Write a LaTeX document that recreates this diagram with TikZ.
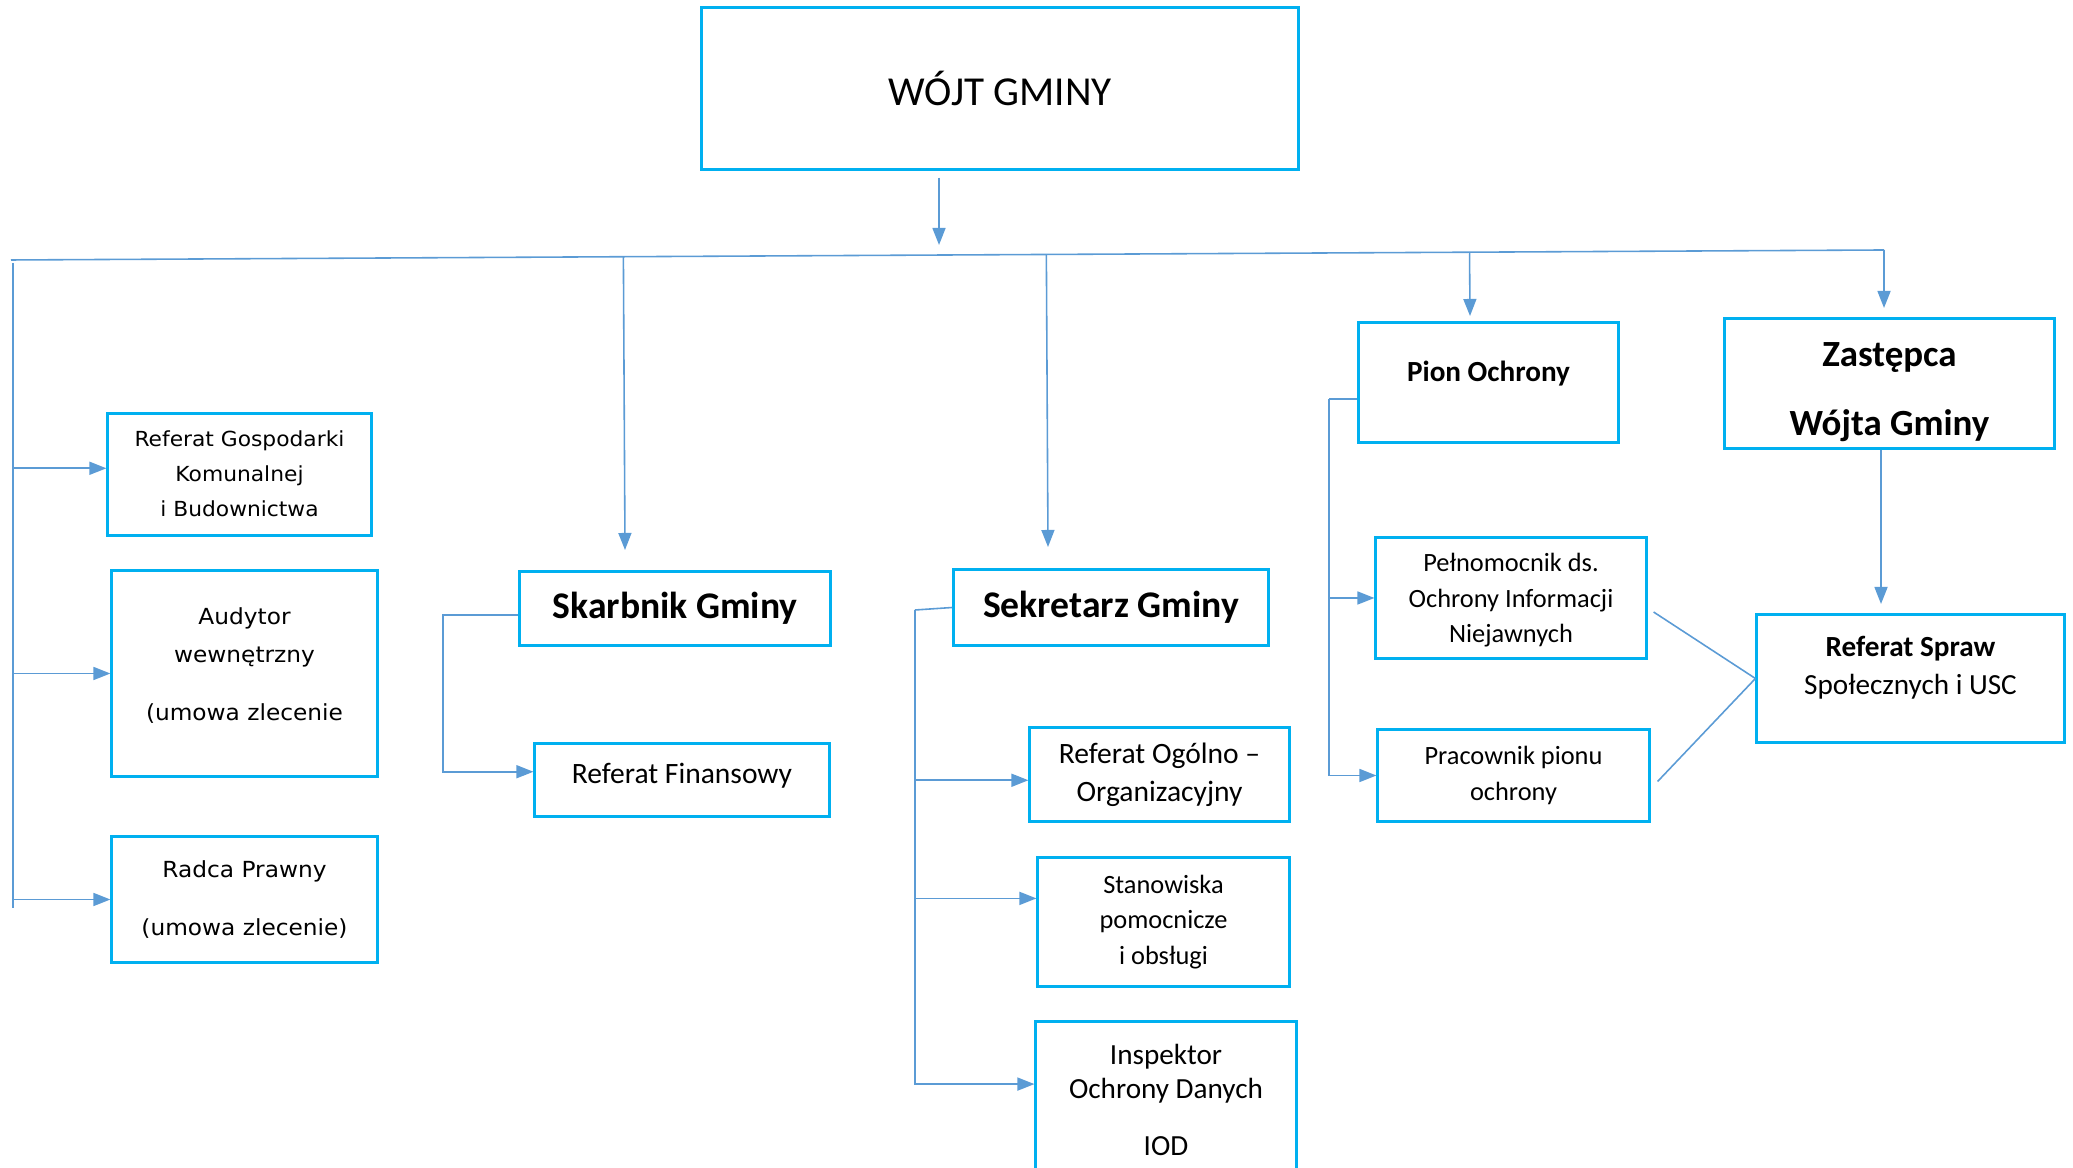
\documentclass[tikz,border=0pt]{standalone}
\usepackage{fontspec}
\setmainfont{Carlito}
\newfontfamily\widefont[FakeStretch=1.05]{DejaVu Sans}
\usetikzlibrary{arrows.meta,calc}
\definecolor{boxblue}{HTML}{00B0F0}
\definecolor{lineblue}{HTML}{5B9BD5}

\begin{document}
\begin{tikzpicture}[x=0.01cm, y=-0.01cm]
    \tikzstyle{box} = [draw=boxblue, line width=0.85pt, align=center, inner sep=1pt]
    \tikzstyle{link} = [draw=lineblue, line width=0.45pt]
    \tikzstyle{arrow} = [link, -{Triangle[length=1.7mm, width=1.3mm]}]
    \clip (0,0) rectangle (2073,1168);

    \node[box, minimum width=5.96cm, minimum height=1.61cm, font=\fontsize{11.7}{14}\selectfont] (wojt) at (1000,88.5) {WÓJT GMINY};

    \node[box, minimum width=2.63cm, minimum height=1.21cm, text depth=0.5pt, font=\widefont\fontsize{5.9}{10}\selectfont] (rgk) at (239.5,474.5) {Referat Gospodarki\\Komunalnej\\i Budownictwa};
    \node[box, minimum width=2.65cm, minimum height=2.05cm, text depth=5.3pt, font=\widefont\fontsize{6.3}{10.8}\selectfont] (aud) at (244.5,673.5) {Audytor\\wewnętrzny\\[5.7pt](umowa zlecenie};
    \node[box, minimum width=2.65cm, minimum height=1.25cm, font=\widefont\fontsize{6.3}{16.5}\selectfont] (radca) at (244.5,899.5) {Radca Prawny\\(umowa zlecenie)};

    \node[box, minimum width=3.10cm, minimum height=0.73cm, font=\fontsize{10.7}{13}\selectfont\bfseries] (skarb) at (675,608.5) {Skarbnik Gminy};
    \node[box, minimum width=2.94cm, minimum height=0.72cm, text depth=4pt, font=\fontsize{8.4}{10.8}\selectfont] (rfin) at (682,780) {Referat Finansowy};

    \node[box, minimum width=3.14cm, minimum height=0.75cm, font=\fontsize{10.7}{13}\selectfont\bfseries] (sekr) at (1111,607.5) {Sekretarz Gminy};
    \node[box, minimum width=2.59cm, minimum height=0.93cm, font=\fontsize{8.4}{10.8}\selectfont] (rog) at (1159.5,774.5) {Referat Ogólno –\\Organizacyjny};
    \node[box, minimum width=2.51cm, minimum height=1.28cm, font=\fontsize{7.5}{10}\selectfont] (stan) at (1163.5,922) {Stanowiska\\pomocnicze\\i obsługi};
    \node[box, minimum width=2.60cm, minimum height=1.56cm, font=\fontsize{8.3}{9.7}\selectfont] (iod) at (1166,1100) {Inspektor\\Ochrony Danych\\[6.5pt]IOD};

    \node[box, minimum width=2.59cm, minimum height=1.19cm, text depth=6.4pt, font=\fontsize{8.3}{10}\selectfont\bfseries] (pion) at (1488.5,382.5) {Pion Ochrony};
    \node[box, minimum width=2.70cm, minimum height=1.20cm, text depth=0pt, font=\fontsize{7.5}{10}\selectfont] (pel) at (1511,598) {Pełnomocnik ds.\\Ochrony Informacji\\Niejawnych};
    \node[box, minimum width=2.71cm, minimum height=0.91cm, font=\fontsize{7.5}{10.2}\selectfont] (prac) at (1513.5,775.5) {Pracownik pionu\\ochrony};

    \node[box, minimum width=3.29cm, minimum height=1.29cm, text height=31.5pt, font=\fontsize{10.5}{19.6}\selectfont\bfseries] (zast) at (1889.5,383.5) {Zastępca\\Wójta Gminy};
    \node[box, minimum width=3.07cm, minimum height=1.27cm, text depth=7.6pt, font=\fontsize{8.3}{10.8}\selectfont] (rss) at (1910.5,678.5) {\textbf{Referat Spraw}\\Społecznych i USC};

    \coordinate (busL) at (11,260);
    \coordinate (busR) at (1884,250);
    \coordinate (wb) at (939,245);
    \coordinate (lt) at (13,263);
    \coordinate (lb) at (13,908);
    \coordinate (sk) at (625,550);
    \coordinate (sb) at (443,615);
    \coordinate (se) at (1048,547);
    \coordinate (kb) at (915,610);
    \coordinate (pt) at (1470,316);
    \coordinate (pb) at (1329,399);
    \coordinate (zt) at (1884,308);
    \coordinate (zr) at (1881,604);

    \draw[arrow] ($(wb |- wojt.south)+(0,7)$) -- (wb);
    \draw[link] (busL) -- (busR);

    \draw[link] (lt) -- (lb);
    \draw[arrow] (lt |- {$(rgk.north west)!0.45!(rgk.south west)$}) -- ($(rgk.north west)!0.45!(rgk.south west)$);
    \draw[arrow] (lt |- aud.west) -- (aud.west);
    \draw[arrow] (lt |- radca.west) -- (radca.west);

    \draw[arrow] ($(busL)!(sk)!(busR)$) -- (sk);
    \draw[arrow] (skarb.west |- sb) -- (sb) |- ($(rfin.north west)!0.39!(rfin.south west)$);

    \draw[arrow] ($(busL)!(se)!(busR)$) -- (se);
    \draw[link] (sekr.west) -- (kb);
    \draw[arrow] (kb) |- ($(rog.north west)!0.56!(rog.south west)$);
    \draw[arrow] (kb) |- ($(stan.north west)!0.32!(stan.south west)$);
    \draw[arrow] (kb) |- ($(iod.north west)!0.40!(iod.south west)$);

    \draw[arrow] ($(busL)!(pt)!(busR)$) -- (pt);
    \draw[link] (pion.west |- pb) -- (pb);
    \draw[arrow] (pb) |- (pel.west);
    \draw[arrow] (pb) |- (prac.west);

    \draw[arrow] (busR) -- (zt);
    \draw[arrow] (zr |- zast.south) -- (zr);
    \draw[link] ($(pel.east)+(6,14)$) -- (rss.west);
    \draw[link] ($(prac.east)+(7,6)$) -- (rss.west);
\end{tikzpicture}
\end{document}
